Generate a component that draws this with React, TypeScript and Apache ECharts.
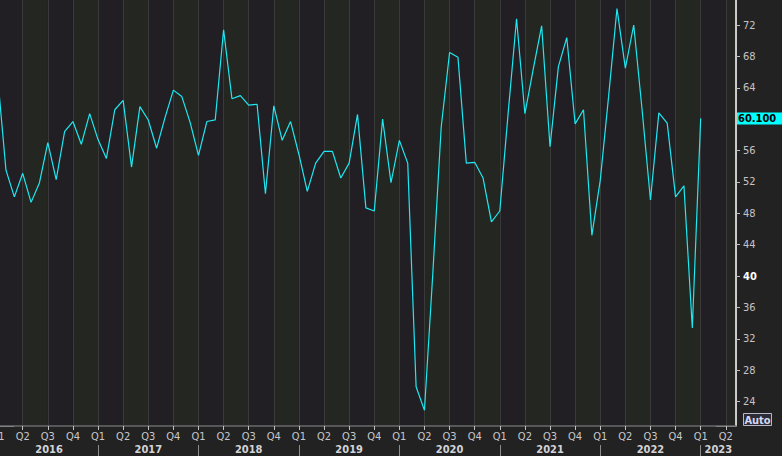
import React, { useEffect, useRef } from "react";
import * as echarts from "echarts";

// Monthly readings, Jan 2016 .. Jan 2023
const v2016 = [65.5, 53.5, 50.1, 53.1, 49.4, 51.9, 57.0, 52.3, 58.4, 59.7, 56.8, 60.7];
const v2017 = [57.4, 55.0, 61.2, 62.4, 53.9, 61.6, 59.9, 56.3, 60.2, 63.7, 62.9, 59.6];
const v2018 = [55.4, 59.7, 59.9, 71.4, 62.6, 63.0, 61.8, 61.9, 50.5, 61.7, 57.3, 59.7];
const v2019 = [55.5, 50.8, 54.4, 55.9, 55.9, 52.5, 54.4, 60.6, 48.7, 48.3, 60.0, 51.9];
const v2020 = [57.3, 54.4, 25.9, 22.9, 40.4, 59.0, 68.5, 67.9, 54.4, 54.5, 52.5, 46.9];
const v2021 = [48.3, 60.8, 72.8, 60.7, 66.4, 71.9, 56.5, 66.7, 70.4, 59.4, 61.2, 45.2];
const v2022 = [52.2, 62.9, 74.1, 66.5, 72.0, 61.2, 49.7, 60.8, 59.5, 50.1, 51.5, 33.4];
const v2023 = [60.1];

const yearLabels = ["2016", "2017", "2018", "2019", "2020", "2021", "2022", "2023"];
const quarterLabels = ["Q1", "Q2", "Q3", "Q4"];
const yTickValues = [24, 28, 32, 36, 40, 44, 48, 52, 56, 60, 64, 68, 72, 76];
const yLabelValues = [24, 28, 32, 36, 40, 44, 48, 52, 56, 64, 68, 72, 76];
const boldTick = 40;

const FONT = '"DejaVu Sans Condensed", "DejaVu Sans", sans-serif';

export default function App() {
  const ref = useRef<HTMLDivElement>(null);

  useEffect(() => {
    if (!ref.current) return;
    const chart = echarts.init(ref.current, undefined, { renderer: "svg" });

    const values = [...v2016, ...v2017, ...v2018, ...v2019, ...v2020, ...v2021, ...v2022, ...v2023];
    const data = values.map((v, i) => [i, v]);
    const last = values[values.length - 1];

    const X_MAX = 88.22;
    const yearBoundaries = yearLabels.slice(1).map((_, i) => (i + 1) * 12);
    const yearCenters = yearLabels.map((_, i) => {
      const a = Math.max(i * 12, 0.29);
      const b = Math.min((i + 1) * 12, X_MAX);
      return (a + b) / 2;
    });

    const option: any = {
      animation: false,
      backgroundColor: "#222222",
      textStyle: { fontFamily: FONT },
      grid: [
        { left: -2.4, right: 46, top: -6.39, bottom: 22.91, containLabel: false, outerBoundsMode: "none" },
        { left: -2.4, right: 46, top: 0, bottom: 30, containLabel: false, outerBoundsMode: "none" },
      ],
      xAxis: [
        { gridIndex: 0, type: "value", min: 0, max: X_MAX, show: false },
        {
          gridIndex: 1,
          type: "value",
          min: 0,
          max: X_MAX,
          interval: 3,
          position: "bottom",
          axisLine: { show: true, onZero: false, lineStyle: { color: "#6a6a6a", width: 1.5 } },
          axisTick: { show: true, length: 4, lineStyle: { color: "#c0c0c0" } },
          axisLabel: {
            show: true,
            margin: 5,
            color: "#c8c8cc",
            fontSize: 11,
            fontFamily: FONT,
            showMinLabel: true,
            showMaxLabel: false,
            hideOverlap: false,
            formatter: (v: number) =>
              Math.abs(v - Math.round(v)) < 1e-6 && Math.round(v) % 3 === 0
                ? quarterLabels[(Math.round(v) / 3) % 4]
                : "",
          },
          splitLine: { show: true, lineStyle: { color: "#3a3a3a", width: 1 } },
          splitArea: { show: true, areaStyle: { color: ["#211f24", "#232621"] } },
        },
        {
          gridIndex: 1,
          type: "value",
          min: 0,
          max: X_MAX,
          position: "bottom",
          offset: 19,
          axisLine: { show: false, onZero: false },
          axisTick: {
            show: true,
            customValues: yearBoundaries,
            length: 11,
            lineStyle: { color: "#8c8c8c", width: 1 },
          },
          axisLabel: {
            show: true,
            customValues: yearCenters,
            margin: -1,
            color: "#d4d4d8",
            fontSize: 11,
            fontWeight: "bold",
            fontFamily: FONT,
            formatter: (v: number) => yearLabels[Math.min(Math.floor(v / 12), yearLabels.length - 1)],
          },
          splitLine: { show: false },
        },
      ],
      yAxis: [
        {
          gridIndex: 0,
          type: "value",
          position: "right",
          min: 20,
          max: 76,
          interval: 4,
          axisLine: { show: false, onZero: false },
          axisTick: {
            show: true,
            inside: false,
            length: 4,
            customValues: yTickValues,
            lineStyle: { color: "#c0c0c0" },
          },
          axisLabel: {
            show: true,
            customValues: yLabelValues,
            margin: 7,
            color: "#c4c4c8",
            fontSize: 11,
            fontFamily: FONT,
            formatter: (v: number) => (v === boldTick ? `{b|${v}}` : `${v}`),
            rich: {
              b: { color: "#ffffff", fontWeight: "bold", fontSize: 11, fontFamily: FONT },
            },
          },
          splitLine: {
            show: true,
            showMinLine: false,
            showMaxLine: false,
            lineStyle: { color: "#3a3a3a", width: 1 },
          },
        },
        {
          gridIndex: 1,
          type: "value",
          position: "right",
          min: 0,
          max: 1,
          axisLine: { show: true, onZero: false, lineStyle: { color: "#ffffff", width: 1.5 } },
          axisTick: { show: false },
          axisLabel: { show: false },
          splitLine: { show: false },
        },
      ],
      series: [
        {
          type: "line",
          xAxisIndex: 0,
          yAxisIndex: 0,
          data,
          showSymbol: false,
          symbol: "none",
          clip: true,
          lineStyle: { color: "#1ee8f2", width: 1.2 },
          markLine: {
            silent: true,
            symbol: ["none", "none"],
            lineStyle: { color: "rgba(0,0,0,0)", width: 0 },
            label: {
              show: true,
              position: "end",
              distance: 1,
              formatter: () => last.toFixed(3),
              backgroundColor: "#00ffff",
              color: "#000000",
              fontWeight: "bold",
              fontSize: 11,
              fontFamily: FONT,
              padding: [1, 10, 0, 1],
            },
            data: [{ yAxis: last }],
          },
        },
      ],
      graphic: [
        {
          type: "line",
          silent: true,
          shape: { x1: 0, y1: 426, x2: 14, y2: 426 },
          style: { stroke: "#ffffff", lineWidth: 1.5 },
        },
        {
          type: "line",
          silent: true,
          shape: { x1: 716, y1: 426, x2: 736, y2: 426 },
          style: { stroke: "#ffffff", lineWidth: 1.5 },
        },
        {
          type: "rect",
          silent: true,
          shape: { x: 743.5, y: 413.5, width: 28, height: 12 },
          style: { fill: "#2c2c36", stroke: "#b8b8c8", lineWidth: 1 },
        },
        {
          type: "text",
          silent: true,
          x: 757.5,
          y: 420,
          style: {
            text: "Auto",
            fill: "#d4d8f4",
            fontSize: 11,
            fontWeight: "bold",
            fontFamily: FONT,
            align: "center",
            verticalAlign: "middle",
          },
        },
      ],
    };

    chart.setOption(option);
    return () => chart.dispose();
  }, []);

  return (
    <div
      ref={ref}
      style={{ position: "absolute", left: 0, top: 0, width: 782, height: 456 }}
    />
  );
}
